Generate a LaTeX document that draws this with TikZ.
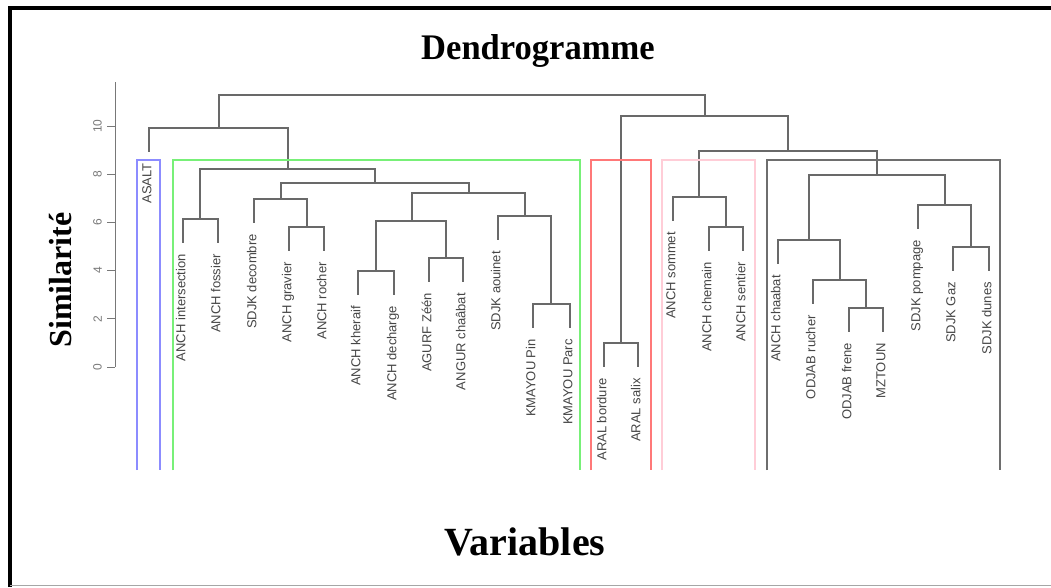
\documentclass[tikz,border=0pt]{standalone}
\usepackage{fontspec}
\setmainfont{Liberation Serif}
\newfontfamily\labfont{Liberation Sans}
\definecolor{lnc}{RGB}{105,105,105}
\definecolor{labc}{RGB}{70,70,70}
\definecolor{axc}{RGB}{120,120,120}
\definecolor{bxblue}{RGB}{140,140,255}
\definecolor{bxgreen}{RGB}{120,240,120}
\definecolor{bxred}{RGB}{255,120,120}
\definecolor{bxpink}{RGB}{255,205,215}
\definecolor{bxgrey}{RGB}{110,110,110}
\newcommand\dleaf[4]{\coordinate (#1) at (#2,#3); \node[leaflab] (t#1) at (#2,#3+11) {#4};}
\begin{document}
\begin{tikzpicture}[x=1pt,y=-1pt,
  den/.style={draw=lnc, line width=1.3pt},
  axisln/.style={draw=axc, line width=0.9pt},
  boxln/.style={line width=1.3pt},
  leaflab/.style={rotate=90, anchor=mid east, font=\labfont\fontsize{13}{15}\selectfont, text=labc, inner sep=0pt},
  ticklab/.style={rotate=90, anchor=south, font=\labfont\fontsize{12}{14}\selectfont, text=axc, inner sep=0pt},
  bigtitle/.style={font=\bfseries\fontsize{36}{40}\selectfont, inner sep=0pt, anchor=base}]
\useasboundingbox (0,0) rectangle (1051,587);
\fill[white] (0,0) rectangle (1051,587);
% frame
\draw[black, line width=4pt] (10,587) -- (10,8) -- (1051,8);
\draw[gray!70, line width=1pt] (10,585.5) -- (1051,585.5);
% titles
\node[bigtitle, xscale=0.96] (title) at (538,59) {Dendrogramme};
\node[bigtitle, font=\bfseries\fontsize{40}{44}\selectfont] (xlab) at (525,555) {Variables};
\node[bigtitle, font=\bfseries\fontsize{32}{36}\selectfont, rotate=90] (ylab) at (71,280) {Similarité};
% axis
\draw[axisln] (115,82) -- (115,367);
\foreach \v in {0,2,...,10} {
  \draw[axisln] (107,{367-24.1*\v}) -- (115,{367-24.1*\v});
  \node[ticklab] (tk\v) at (102,{367-24.1*\v}) {\v};
}
% merge points
\coordinate (R) at (461,95);
\coordinate (A) at (219,128);
\coordinate (G) at (288,169);
\coordinate (G1) at (200,219);
\coordinate (G2) at (375,183);
\coordinate (G3) at (281,199);
\coordinate (G5) at (307,227);
\coordinate (G4) at (469,193);
\coordinate (G6) at (412,221);
\coordinate (G8) at (376,271);
\coordinate (G9) at (446,258);
\coordinate (G7) at (525,216);
\coordinate (G10) at (551,304);
\coordinate (B) at (705,116);
\coordinate (C1) at (621,343);
\coordinate (C2) at (788,151);
\coordinate (C3) at (699,197);
\coordinate (C5) at (726,227);
\coordinate (C4) at (877,175);
\coordinate (C6) at (809,240);
\coordinate (C8) at (840,280);
\coordinate (C9) at (866,308);
\coordinate (C7) at (945,205);
\coordinate (C10) at (971,247);
% leaves
\dleaf{l1}{149}{152}{ASALT}
\dleaf{l2}{183}{243}{ANCH intersection}
\dleaf{l3}{218}{243}{ANCH fossier}
\dleaf{l4}{254}{223}{SDJK decombre}
\dleaf{l5}{289}{251}{ANCH gravier}
\dleaf{l6}{324}{251}{ANCH rocher}
\dleaf{l7}{358}{295}{ANCH kheraif}
\dleaf{l8}{394}{295}{ANCH decharge}
\dleaf{l9}{429}{282}{AGURF Zéén}
\dleaf{l10}{463}{282}{ANGUR chaâbat}
\dleaf{l11}{498}{240}{SDJK aouinet}
\dleaf{l12}{533}{328}{KMAYOU Pin}
\dleaf{l13}{570}{328}{KMAYOU Parc}
\dleaf{l14}{604}{367}{ARAL bordure}
\dleaf{l15}{638}{367}{ARAL salix}
\dleaf{l16}{673}{221}{ANCH sommet}
\dleaf{l17}{709}{251}{ANCH chemain}
\dleaf{l18}{743}{251}{ANCH sentier}
\dleaf{l19}{778}{264}{ANCH chaabat}
\dleaf{l20}{813}{304}{ODJAB rucher}
\dleaf{l21}{849}{332}{ODJAB frene}
\dleaf{l22}{883}{332}{MZTOUN}
\dleaf{l23}{918}{229}{SDJK pompage}
\dleaf{l24}{953}{271}{SDJK Gaz}
\dleaf{l25}{989}{271}{SDJK dunes}
% connectors
\draw[den] (R) -| (A);  \draw[den] (R) -| (B);
\draw[den] (A) -| (l1); \draw[den] (A) -| (G);
\draw[den] (G) -| (G1); \draw[den] (G) -| (G2);
\draw[den] (G1) -| (l2); \draw[den] (G1) -| (l3);
\draw[den] (G2) -| (G3); \draw[den] (G2) -| (G4);
\draw[den] (G3) -| (l4); \draw[den] (G3) -| (G5);
\draw[den] (G5) -| (l5); \draw[den] (G5) -| (l6);
\draw[den] (G4) -| (G6); \draw[den] (G4) -| (G7);
\draw[den] (G6) -| (G8); \draw[den] (G6) -| (G9);
\draw[den] (G8) -| (l7); \draw[den] (G8) -| (l8);
\draw[den] (G9) -| (l9); \draw[den] (G9) -| (l10);
\draw[den] (G7) -| (l11); \draw[den] (G7) -| (G10);
\draw[den] (G10) -| (l12); \draw[den] (G10) -| (l13);
\draw[den] (B) -| (C1); \draw[den] (B) -| (C2);
\draw[den] (C1) -| (l14); \draw[den] (C1) -| (l15);
\draw[den] (C2) -| (C3); \draw[den] (C2) -| (C4);
\draw[den] (C3) -| (l16); \draw[den] (C3) -| (C5);
\draw[den] (C5) -| (l17); \draw[den] (C5) -| (l18);
\draw[den] (C4) -| (C6); \draw[den] (C4) -| (C7);
\draw[den] (C6) -| (l19); \draw[den] (C6) -| (C8);
\draw[den] (C8) -| (l20); \draw[den] (C8) -| (C9);
\draw[den] (C9) -| (l21); \draw[den] (C9) -| (l22);
\draw[den] (C7) -| (l23); \draw[den] (C7) -| (C10);
\draw[den] (C10) -| (l24); \draw[den] (C10) -| (l25);
% cluster boxes (open at the bottom)
\draw[boxln, bxblue] (137,470) -- (137,160) -- (160,160) -- (160,470);
\draw[boxln, bxgreen] (173,470) -- (173,160) -- (580,160) -- (580,470);
\draw[boxln, bxred] (591,470) -- (591,160) -- (651,160) -- (651,470);
\draw[boxln, bxpink] (662,470) -- (662,160) -- (755,160) -- (755,470);
\draw[boxln, bxgrey] (767,470) -- (767,160) -- (1000,160) -- (1000,470);
\end{tikzpicture}
\end{document}
